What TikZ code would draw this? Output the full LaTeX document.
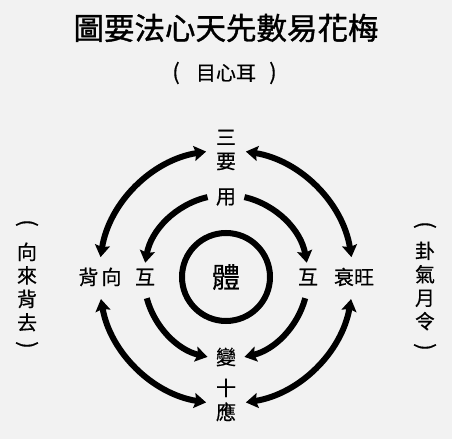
\documentclass[tikz,border=0pt]{standalone}
\usepackage{fontspec}
\newfontfamily\cjk[FakeBold=0.5]{Noto Sans CJK TC}
\newfontfamily\cjkhead[FakeBold=1.2]{Noto Sans CJK TC}
\usetikzlibrary{arrows.meta,positioning}
\definecolor{paper}{gray}{0.95}
\tikzstyle{word} = [font=\cjk\fontsize{20pt}{24pt}\selectfont, align=center,
    inner sep=0pt]
\tikzstyle{side} = [word, font=\cjk\fontsize{20pt}{23.5pt}\selectfont]
\tikzstyle{paren} = [word, font=\cjk\fontsize{22pt}{22pt}\selectfont]
\tikzstyle{ring} = [line width=6pt, -{Stealth[length=12pt,width=15pt,inset=2pt]}]
\tikzstyle{both} = [line width=6pt,
    {Stealth[length=12pt,width=15pt,inset=2pt]}-{Stealth[length=12pt,width=15pt,inset=2pt]}]

\begin{document}
\begin{tikzpicture}[x=1pt, y=1pt]
  \fill [paper] (0,0) rectangle (452,439);
  \useasboundingbox (0,0) rectangle (452,439);
  % Title
  \node [word, font=\cjkhead\fontsize{30.5pt}{30pt}\selectfont] (title) at (226,411)
  {圖要法心天先數易花梅};
  \node [word] (sub) at (226,366) {目心耳};
  \node [paren, left of=sub, node distance=50pt] (subl) {(};
  \node [paren, right of=sub, node distance=47pt] (subr) {)};
  % Side notes
  \node [side] (lai) at (27,152) {向\\來\\背\\去};
  \node [paren, rotate=-90] (lait) at (27,216) {(};
  \node [paren, rotate=-90] (laib) at (27,94) {)};
  \node [side] (gua) at (425,153) {卦\\氣\\月\\令};
  \node [paren, rotate=-90] (guat) at (425,214) {(};
  \node [paren, rotate=-90] (guab) at (425,92) {)};
  % Place nodes
  \node [word, font=\cjk\fontsize{28pt}{28pt}\selectfont] (ti) at (226,162) {體};
  \node [word, above of=ti, node distance=80pt] (yong) {用};
  \node [word, above of=ti, node distance=127pt] (sanyao) {三\\要};
  \node [word, below of=ti, node distance=80pt] (bian) {變};
  \node [word, below of=ti, node distance=123pt] (shiying) {十\\應};
  \node [word, left of=ti, node distance=81pt] (hul) {互};
  \node [word, right of=ti, node distance=82pt] (hur) {互};
  \node [word, left of=ti, node distance=126pt] (beixiang) {背\hspace{3pt}向};
  \node [word, right of=ti, node distance=128pt] (shuaiwang) {衰旺};
  % Rings
  \draw [line width=6pt] (ti) circle [radius=44pt];
  \draw [ring] ([shift={(77:82pt)}]ti.center) arc [start angle=77, end angle=10, radius=82pt];
  \draw [ring] ([shift={(-15:82pt)}]ti.center) arc [start angle=-15, end angle=-77, radius=82pt];
  \draw [ring] ([shift={(103:82pt)}]ti.center) arc [start angle=103, end angle=170, radius=82pt];
  \draw [ring] ([shift={(195:82pt)}]ti.center) arc [start angle=195, end angle=257, radius=82pt];
  \draw [both] ([shift={(81:127pt)}]ti.center) arc [start angle=81, end angle=9, radius=127pt];
  \draw [both] ([shift={(99:127pt)}]ti.center) arc [start angle=99, end angle=171, radius=127pt];
  \draw [both] ([shift={(-10:127pt)}]ti.center) arc [start angle=-10, end angle=-81, radius=127pt];
  \draw [both] ([shift={(190:127pt)}]ti.center) arc [start angle=190, end angle=261, radius=127pt];
\end{tikzpicture}
\end{document}
